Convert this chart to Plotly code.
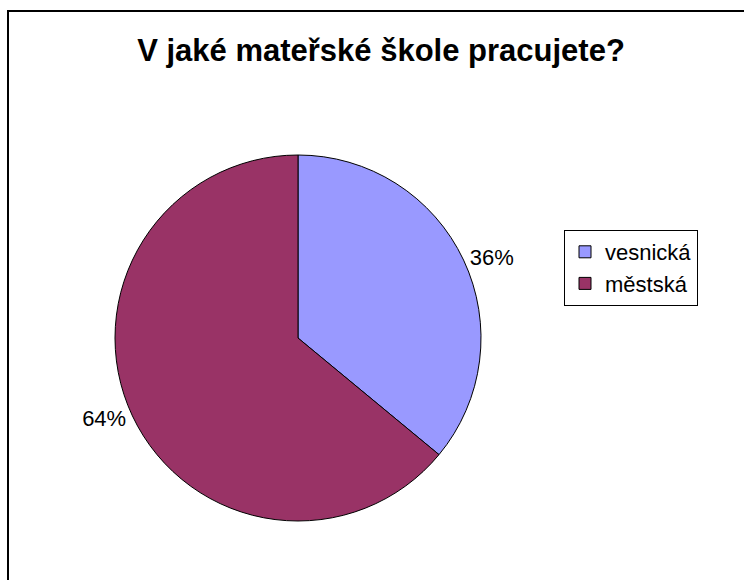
import plotly.graph_objects as go

# Survey answers: type of kindergarten
categories = ["vesnická", "městská"]
shares = [36, 64]
colors = ["#9999FF", "#993366"]

W, H = 744, 580

fig = go.Figure()
fig.add_trace(go.Pie(
    labels=categories,
    values=shares,
    sort=False,
    direction="clockwise",
    rotation=0,
    marker=dict(colors=colors, line=dict(color="black", width=1)),
    textinfo="percent",
    texttemplate="%{percent:.0%}",
    textposition="outside",
    outsidetextfont=dict(family="Liberation Sans, Arial, sans-serif", size=22, color="black"),
    domain=dict(x=[115 / W, 481 / W], y=[1 - 521 / H, 1 - 155 / H]),
    hoverinfo="label+percent",
))

fig.update_layout(
    width=W,
    height=H,
    margin=dict(l=0, r=0, t=0, b=0),
    paper_bgcolor="white",
    plot_bgcolor="white",
    font=dict(family="Liberation Sans, Arial, sans-serif", color="black"),
    title=dict(
        text="<b>V jaké mateřské škole pracujete?</b>",
        x=381 / W,
        xanchor="center",
        y=1 - 50 / H,
        yanchor="middle",
        font=dict(size=31, color="black"),
    ),
    showlegend=True,
    legend=dict(
        x=564 / W,
        xanchor="left",
        y=1 - 230 / H,
        yanchor="top",
        bordercolor="black",
        borderwidth=1,
        bgcolor="white",
        font=dict(size=22, color="black"),
        traceorder="normal",
    ),
    shapes=[
        dict(
            type="rect",
            xref="paper",
            yref="paper",
            x0=8 / W,
            x1=1.05,
            y0=-0.05,
            y1=1 - 11 / H,
            line=dict(color="black", width=2),
            fillcolor="rgba(0,0,0,0)",
            layer="below",
        )
    ],
)

fig.write_html("out.html")
